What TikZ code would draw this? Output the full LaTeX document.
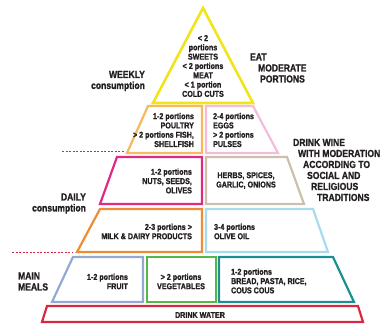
\documentclass[tikz,border=0pt]{standalone}
\usepackage{fontspec}
\newfontfamily\pyrfont{Liberation Sans}[FakeStretch=0.84,BoldFeatures={FakeBold=1.2}]
\usepackage{tikz}
\definecolor{pyryellow}{HTML}{F1E41B}
\definecolor{pyrpeach}{HTML}{F6B95C}
\definecolor{pyrpink}{HTML}{F2BCDA}
\definecolor{pyrmagenta}{HTML}{DD2A86}
\definecolor{pyrbeige}{HTML}{CBC1AB}
\definecolor{pyrorange}{HTML}{F08B33}
\definecolor{pyrsky}{HTML}{A6DBF0}
\definecolor{pyrslate}{HTML}{93A8D3}
\definecolor{pyrgreen}{HTML}{52B948}
\definecolor{pyrteal}{HTML}{1C8F92}
\definecolor{pyrred}{HTML}{D8283F}
\definecolor{pyrtext}{HTML}{231F20}

\begin{document}
\begin{tikzpicture}[x=1pt,y=-1pt,line width=2.2pt,line join=miter,
  cell/.style={font=\pyrfont\bfseries\fontsize{8.5}{9.3}\selectfont,text=pyrtext},
  side/.style={font=\pyrfont\bfseries\fontsize{10.2}{11}\selectfont,text=pyrtext},
  cut/.style={pyrred,line width=1pt,dash pattern=on 2pt off 1.5pt}]
\tikzstyle{every node}+=[inner sep=0pt]
\useasboundingbox (0,0) rectangle (386,326);
% top
\draw [pyryellow,line width=2.6pt] (203,8) -- (253,103) -- (153,103) -- cycle;
% weekly
\draw [pyrpeach] (148,106) -- (202,106) -- (202,153) -- (127,153) -- cycle;
\draw [pyrpink] (206,106) -- (253,106) -- (278,153) -- (206,153) -- cycle;
\draw [cut] (62,152) -- (125,152);
% daily
\draw [pyrmagenta] (117,157) -- (202,157) -- (202,204) -- (100,204) -- cycle;
\draw [pyrbeige] (206,157) -- (287,157) -- (304,204) -- (206,204) -- cycle;
\draw [pyrorange] (100,209) -- (202,209) -- (202,252) -- (77,252) -- cycle;
\draw [pyrsky] (206,209) -- (313,209) -- (328,252) -- (206,252) -- cycle;
\draw [cut] (12,253) -- (73,253);
% main meals
\draw [pyrslate] (73,257) -- (143,257) -- (143,302) -- (52,302) -- cycle;
\draw [pyrgreen] (147,257) rectangle (216,302);
\draw [pyrteal] (219,257) -- (333,257) -- (354,302) -- (219,302) -- cycle;
\draw [pyrred] (47,306) -- (358,306) -- (363,322) -- (42,322) -- cycle;
% texts
\node (sweets) [cell,align=center] at (203,66) {< 2\\portions\\SWEETS\\< 2 portions\\MEAT\\< 1 portion\\COLD CUTS};
\node (poultry) [cell,align=right,anchor=east] at (195,130) {1-2 portions\\POULTRY\\> 2 portions FISH,\\SHELLFISH};
\node (eggs) [cell,align=left,anchor=west] at (212,130) {2-4 portions\\EGGS\\> 2 portions\\PULSES};
\node (nuts) [cell,align=right,anchor=east] at (193,181) {1-2 portions\\NUTS, SEEDS,\\OLIVES};
\node (herbs) [cell,align=center] at (246,180.5) {HERBS, SPICES,\\GARLIC, ONIONS};
\node (milk) [cell,align=right,anchor=east] at (193,231.5) {2-3 portions >\\MILK \& DAIRY PRODUCTS};
\node (olive) [cell,align=left,anchor=west] at (213,231.5) {3-4 portions\\OLIVE OIL};
\node (fruit) [cell,align=right,anchor=east] at (129,281.5) {1-2 portions\\FRUIT};
\node (veg) [cell,align=center] at (181,281.5) {> 2 portions\\VEGETABLES};
\node (bread) [cell,align=left,anchor=west] at (230,281) {1-2 portions\\BREAD, PASTA, RICE,\\COUS COUS};
\node (water) [cell] at (200,315) {DRINK WATER};
% side labels
\node (weekly) [side,align=right,anchor=east] at (146,81) {WEEKLY\\consumption};
\node (eat) [side,align=left,anchor=west] at (249,68) {EAT\\\hspace*{8pt}MODERATE\\\hspace*{10pt}PORTIONS};
\node (wine) [side,align=left,anchor=west] at (292,170) {DRINK WINE\\\hspace*{5pt}WITH MODERATION\\\hspace*{10pt}ACCORDING TO\\\hspace*{14pt}SOCIAL AND\\\hspace*{18pt}RELIGIOUS\\\hspace*{24pt}TRADITIONS};
\node (daily) [side,align=right,anchor=east] at (87,203.5) {DAILY\\consumption};
\node (meals) [side,align=left,anchor=west] at (17,281.5) {MAIN\\MEALS};
\end{tikzpicture}
\end{document}
